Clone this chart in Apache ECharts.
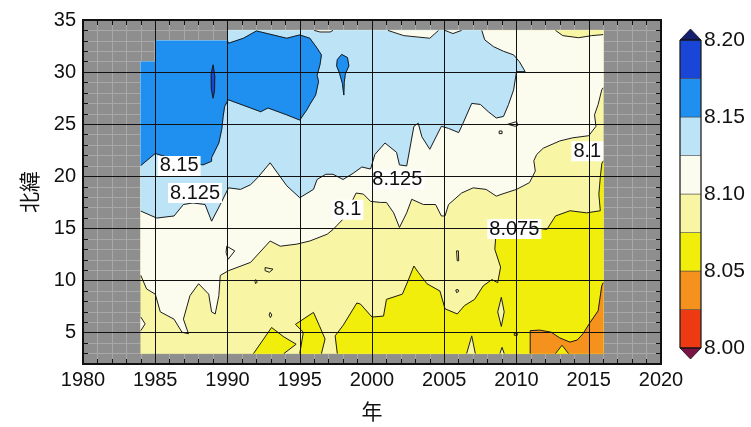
<!DOCTYPE html>
<html>
<head>
<meta charset="utf-8">
<script src="https://cdn.jsdelivr.net/npm/echarts@6/dist/echarts.min.js"></script>
<style>
  html, body { margin: 0; padding: 0; background: #ffffff; }
  #chart { width: 751px; height: 427px; }
</style>
</head>
<body>
<div id="chart"></div>
<script>
const NUM_FONT = 'Liberation Sans, Arial, Helvetica, sans-serif';
const CJK_FONT = 'Noto Sans CJK JP, Noto Sans CJK SC, sans-serif';

// pH classes in 0.025 steps and their fills, low to high
const levels = [8.000, 8.025, 8.050, 8.075, 8.100, 8.125, 8.150, 8.175, 8.200];
const classColors = ['#ee3a12', '#f5921e', '#f2ee0c', '#f8f6a4', '#fcfcee', '#bde3f6', '#1f8ff0', '#1a46d8'];
const colorbarTicks = [8.00, 8.05, 8.10, 8.15, 8.20];

// axes: year along x, latitude (deg N) along y
const yearRange = [1980, 2020];
const latRange = [2, 35];
const yearGrid = [1985, 1990, 1995, 2000, 2005, 2010, 2015];
const latGrid = [5, 10, 15, 20, 25, 30];

// observed area, [year, lat]
const coverage = [[1984, 3], [2016, 3], [2016, 34], [1990, 34], [1990, 33], [1985, 33], [1985, 31], [1984, 31]];

// 8.050-8.075 areas (contour part, then closing points along the edge of the observed area)
const yellowA = [[1991.8, 3], [1992.4, 4.2], [1993.05, 5.5], [1993.9, 4.6], [1994.75, 3.9], [1993.9, 3]];
const yellowB = [[1995.0, 3], [1995.25, 5.05], [1994.7, 5.8], [1995.95, 6.95], [1996.35, 5.7], [1996.75, 4.4], [1996.5, 3]];
const yellowC = [[1997.6, 3], [1997.45, 4.7], [1998.0, 5.7], [1998.95, 7.85], [1999.2, 7.75], [2000.0, 6.5], [2000.8, 6.6],
  [2001.0, 8.2], [2002.1, 8.7], [2002.5, 10.0], [2002.9, 11.4], [2003.2, 10.8], [2003.8, 9.7], [2004.7, 9.0],
  [2005.05, 7.3], [2005.9, 6.8], [2006.4, 7.6], [2007.1, 8.2], [2007.7, 9.5], [2008.3, 10.1], [2008.7, 9.8],
  [2008.9, 11.3], [2008.5, 13.0], [2008.6, 14.9], [2010.2, 15.3], [2012.1, 14.9], [2012.7, 16.2], [2013.7, 16.7],
  [2014.85, 16.5], [2015.8, 16.7], [2015.7, 18.3], [2015.8, 19.9], [2015.9, 21.2], [2016, 21.5]];
const yellowCClose = [[2016, 3]];
const yellowNotch = [[2012.7, 3], [2013.15, 3.8], [2013.6, 3]];

// 8.075-8.100 pockets inside the 8.050-8.075 area
const paleLens = [[2008.95, 8.4], [2009.15, 7.0], [2008.95, 5.6], [2008.7, 7.0]];
const paleSpike1 = [[2006.55, 3], [2006.9, 4.7], [2007.15, 3]];
const paleSpike2 = [[2008.85, 3], [2009.0, 3.6], [2009.15, 3]];
const paleTopRight = [[2012.7, 34], [2013.2, 33.5], [2014.3, 33.3], [2015.2, 33.5], [2016, 33.6]];
const paleTopRightClose = [[2016, 34]];

// below 8.050
const orange = [[2010.95, 3], [2010.95, 5.2], [2011.6, 5.25], [2012.4, 5.05], [2013.0, 4.5], [2013.7, 4.1],
  [2014.2, 4.3], [2014.6, 4.9], [2015.1, 6.0], [2015.65, 7.1], [2015.9, 9.5], [2016, 9.8]];
const orangeClose = [[2016, 3]];

// 8.100 contour (white above)
const white = [[1984, 10.5], [1984.4, 9.2], [1985.0, 8.7], [1985.35, 7.0], [1986.3, 6.3], [1986.85, 5.05], [1987.3, 4.9],
  [1986.95, 6.3], [1987.4, 8.55], [1988.0, 9.7], [1988.7, 8.7], [1988.9, 7.0], [1989.15, 6.8], [1989.4, 8.55],
  [1989.5, 10.5], [1990.07, 10.95], [1991.6, 11.75], [1992.95, 13.8], [1993.65, 13.3], [1994.8, 13.5], [1995.7, 13.8],
  [1996.9, 14.45], [1997.3, 14.9], [1998.0, 15.9], [1998.3, 16.7], [1998.9, 18.4], [1999.4, 18.3], [1999.9, 17.6],
  [2000.6, 17.5], [2001.0, 17.5], [2001.5, 16.5], [2001.9, 15.1], [2002.4, 16.5], [2002.75, 17.8], [2003.55, 17.3],
  [2004.4, 17.3], [2004.8, 16.2], [2005.05, 16.2], [2005.3, 17.3], [2006.2, 18.4], [2007.0, 18.9], [2007.9, 18.75],
  [2008.6, 18.1], [2009.0, 18.3], [2010.0, 18.75], [2010.9, 19.4], [2011.3, 20.5], [2011.2, 21.5], [2011.4, 22.1],
  [2011.85, 22.7], [2013.0, 23.4], [2013.9, 23.7], [2015.0, 23.9], [2015.5, 24.8], [2015.4, 25.9], [2015.65, 26.9],
  [2015.9, 28.3], [2016, 28.5]];
const whiteClose = [[2016, 34], [1990, 34], [1990, 33], [1985, 33], [1985, 31], [1984, 31]];
const whiteNotch = [[1984, 6.5], [1984.3, 5.85], [1984, 5.2]];
const whiteTop1 = [[1996.0, 34], [1996.4, 33.85], [1997.1, 33.85], [1997.3, 34]];
const whiteTop2 = [[2001.1, 34], [2002.2, 33.5], [2004.0, 33.25], [2004.6, 34]];
const whiteTop3 = [[2005.05, 34], [2005.6, 33.7], [2006.2, 34]];

// 8.125 contour (light blue above)
const lightBlue = [[1984, 16.67], [1985.1, 16.0], [1986.3, 16.2], [1986.95, 17.3], [1987.6, 17.45], [1988.45, 17.3],
  [1988.9, 15.7], [1989.5, 17.3], [1990.07, 18.9], [1990.9, 18.75], [1991.6, 19.2], [1992.1, 19.9], [1992.95, 21.3],
  [1994.1, 19.1], [1995.0, 17.95], [1995.95, 18.75], [1996.2, 19.7], [1996.8, 20.2], [1997.3, 20.2], [1998.0, 19.7],
  [1998.7, 20.3], [1999.3, 20.9], [1999.9, 20.7], [2000.2, 22.1], [2000.9, 23.2], [2001.7, 22.3], [2001.9, 21.1],
  [2002.4, 21.0], [2002.9, 24.8], [2003.2, 25.1], [2003.45, 23.8], [2004.0, 22.6], [2004.8, 24.8], [2005.3, 24.6],
  [2006.0, 24.2], [2006.3, 25.1], [2006.9, 27.0], [2007.5, 26.9], [2008.05, 26.2], [2008.6, 25.6], [2009.1, 25.75],
  [2009.45, 26.9], [2009.8, 28.3], [2010.0, 30.05], [2010.6, 30.05], [2010.2, 31.0], [2009.8, 31.65], [2009.1, 32.0],
  [2008.4, 32.45], [2007.8, 33.1], [2007.6, 34]];
const lightBlueClose = [[1990, 34], [1990, 33], [1985, 33], [1985, 31], [1984, 31]];

// 8.150 contour (blue above)
const blue = [[1984, 21.04], [1985, 22.2], [1986.4, 21.6], [1988.3, 21.1], [1988.9, 21.45], [1988.9, 21.8], [1989.4, 23.2],
  [1989.6, 24.5], [1989.7, 25.75], [1989.8, 26.7], [1990.05, 27.35], [1991.6, 26.56], [1992.3, 26.2], [1992.8, 26.56],
  [1994.1, 25.9], [1995.0, 25.4], [1995.5, 26.4], [1995.7, 26.9], [1996.1, 27.8], [1996.3, 29.1], [1996.2, 29.7],
  [1996.4, 30.7], [1996.5, 31.65], [1996.2, 32.3], [1995.7, 33.25], [1995.0, 33.57], [1994.1, 33.25], [1992.0, 33.95],
  [1991.1, 33.25], [1990.07, 32.77], [1990, 33]];
const blueClose = [[1985, 33], [1985, 31], [1984, 31]];
const blueIsland = [[1997.6, 31.2], [1997.9, 31.7], [1998.3, 31.4], [1998.4, 30.6], [1998.15, 29.8], [1998.08, 29.0],
  [1998.05, 27.8], [1997.95, 28.9], [1997.75, 29.9], [1997.55, 30.6]];
const darkBlueIsland = [[1989.0, 30.7], [1989.12, 29.6], [1989.1, 28.2], [1989.0, 27.5], [1988.88, 28.4], [1988.87, 29.8]];

// small closed contours
const loops = [
  [[1989.95, 13.3], [1990.5, 12.85], [1990.05, 12.05], [1989.9, 12.7]],
  [[1992.6, 11.25], [1993.15, 11.1], [1992.9, 10.8], [1992.6, 10.95]],
  [[1991.95, 10.1], [1992.05, 9.85], [1991.95, 9.7], [1991.9, 9.9]],
  [[1992.95, 6.95], [1993.07, 6.7], [1992.97, 6.45], [1992.88, 6.7]],
  [[2005.85, 12.85], [2005.98, 12.85], [2006.0, 11.9], [2005.9, 11.9]],
  [[2005.8, 9.1], [2005.95, 9.15], [2006.0, 8.95], [2005.85, 8.85]],
  [[2008.8, 24.35], [2009.0, 24.35], [2009.0, 24.1], [2008.8, 24.1]],
  [[2009.4, 25.0], [2010.0, 25.25], [2010.1, 24.9], [2009.9, 24.8]],
  [[2009.85, 4.95], [2010.05, 4.95], [2010.05, 4.75], [2009.85, 4.75]]
];

// contour labels: [year, lat, text]
const contourLabels = [
  [1986.65, 21.0, '8.15'],
  [1987.75, 18.4, '8.125'],
  [1998.3, 16.8, '8.1'],
  [2001.75, 19.7, '8.125'],
  [2009.85, 14.95, '8.075'],
  [2014.9, 22.4, '8.1']
];

// draw order: lower classes first, higher classes painted over them
const regions = [
  { cls: 3, line: coverage, close: [], contour: false },
  { cls: 2, line: yellowA, close: [], contour: true },
  { cls: 2, line: yellowB, close: [], contour: true },
  { cls: 2, line: yellowC, close: yellowCClose, contour: true },
  { cls: 3, line: paleLens, close: [], contour: true, closed: true },
  { cls: 3, line: paleSpike1, close: [], contour: true },
  { cls: 3, line: paleSpike2, close: [], contour: true },
  { cls: 1, line: orange, close: orangeClose, contour: true },
  { cls: 2, line: yellowNotch, close: [], contour: true },
  { cls: 4, line: white, close: whiteClose, contour: true },
  { cls: 4, line: whiteNotch, close: [], contour: true },
  { cls: 3, line: paleTopRight, close: paleTopRightClose, contour: true },
  { cls: 5, line: lightBlue, close: lightBlueClose, contour: true },
  { cls: 4, line: whiteTop1, close: [], contour: true },
  { cls: 4, line: whiteTop2, close: [], contour: true },
  { cls: 4, line: whiteTop3, close: [], contour: true },
  { cls: 6, line: blue, close: blueClose, contour: true },
  { cls: 6, line: blueIsland, close: [], contour: true, closed: true },
  { cls: 7, line: darkBlueIsland, close: [], contour: true, closed: true }
].concat(loops.map(l => ({ cls: null, line: l, close: [], contour: true, closed: true })));

function renderRegion(params, api) {
  const r = regions[params.dataIndex];
  const edge = r.line.map(p => api.coord(p));
  const ring = edge.concat(r.close.map(p => api.coord(p)));
  const children = [];
  if (r.cls != null) {
    const c = classColors[r.cls];
    children.push({ type: 'polygon', shape: { points: ring }, style: { fill: c, stroke: c, lineWidth: 0.6 } });
  }
  if (r.contour) {
    const pts = r.closed ? edge.concat([edge[0]]) : edge;
    children.push({ type: 'polyline', shape: { points: pts }, style: { fill: null, stroke: '#1c1c1c', lineWidth: 1 } });
  }
  return { type: 'group', children: children };
}

// contour labels as text boxes on a white ground
function renderLabel(params, api) {
  const d = contourLabels[params.dataIndex];
  const p = api.coord([d[0], d[1]]);
  return {
    type: 'text', x: p[0], y: p[1],
    style: {
      text: d[2], fontFamily: NUM_FONT, fontSize: 20, fill: '#111111',
      align: 'center', verticalAlign: 'middle', backgroundColor: '#ffffff', padding: [0, 2]
    }
  };
}

// colour bar: one box per class plus the two end arrows
const barItems = classColors.map((c, i) => [i]).concat([['top'], ['bottom'], ['frame']]);
function renderBar(params, api) {
  const key = barItems[params.dataIndex][0];
  const lo = api.coord([0, levels[0]]);
  const hi = api.coord([1, levels[levels.length - 1]]);
  const tip = 11;
  if (key === 'top') {
    return { type: 'polygon', shape: { points: [[lo[0], hi[1]], [hi[0], hi[1]], [(lo[0] + hi[0]) / 2, hi[1] - tip]] },
      style: { fill: '#14206e', stroke: '#111', lineWidth: 0.8 } };
  }
  if (key === 'bottom') {
    return { type: 'polygon', shape: { points: [[lo[0], lo[1]], [hi[0], lo[1]], [(lo[0] + hi[0]) / 2, lo[1] + tip]] },
      style: { fill: '#7a1445', stroke: '#111', lineWidth: 0.8 } };
  }
  if (key === 'frame') {
    return { type: 'rect', shape: { x: lo[0], y: hi[1], width: hi[0] - lo[0], height: lo[1] - hi[1] },
      style: { fill: null, stroke: '#111', lineWidth: 1 } };
  }
  const a = api.coord([0, levels[key]]);
  const b = api.coord([1, levels[key + 1]]);
  return { type: 'rect', shape: { x: a[0], y: b[1], width: b[0] - a[0], height: a[1] - b[1] },
    style: { fill: classColors[key], stroke: '#444', lineWidth: 0.5 } };
}

const tickText = { fontFamily: NUM_FONT, fontSize: 20, color: '#111111' };

const chart = echarts.init(document.getElementById('chart'), null, { renderer: 'canvas' });
chart.setOption({
  animation: false,
  backgroundColor: '#ffffff',
  grid: [
    { left: 83, top: 20, width: 578, height: 345, show: true, backgroundColor: '#8e8e8e', borderWidth: 0 },
    { left: 680, top: 40, width: 21, height: 308, show: false }
  ],
  xAxis: [
    {
      gridIndex: 0, type: 'value', position: 'bottom', min: yearRange[0], max: yearRange[1], interval: 1,
      axisLine: { show: true, lineStyle: { color: '#111', width: 2 } },
      axisTick: { show: true, inside: true, length: 5, lineStyle: { color: '#111', width: 1 } },
      axisLabel: Object.assign({ margin: 6, formatter: v => (v % 5 === 0 ? String(v) : '') }, tickText),
      splitLine: { show: true, lineStyle: { color: '#a8a8a8', width: 1 } },
      name: '年', nameLocation: 'middle', nameGap: 37,
      nameTextStyle: { fontFamily: CJK_FONT, fontSize: 21, color: '#111111' }
    },
    {
      gridIndex: 0, type: 'value', position: 'top', min: yearRange[0], max: yearRange[1], interval: 1,
      axisLine: { show: true, onZero: false, lineStyle: { color: '#111', width: 2 } },
      axisTick: { show: true, inside: true, length: 5, lineStyle: { color: '#111', width: 1 } },
      axisLabel: { show: false }, splitLine: { show: false }
    },
    { gridIndex: 1, type: 'value', min: 0, max: 1, show: false }
  ],
  yAxis: [
    {
      gridIndex: 0, type: 'value', position: 'left', min: latRange[0], max: latRange[1], interval: 1,
      axisLine: { show: true, onZero: false, lineStyle: { color: '#111', width: 2 } },
      axisTick: { show: true, inside: true, length: 5, lineStyle: { color: '#111', width: 1 } },
      axisLabel: Object.assign({ margin: 7, formatter: v => (v % 5 === 0 ? String(v) : '') }, tickText),
      splitLine: { show: true, lineStyle: { color: '#a8a8a8', width: 1 } },
      name: '北緯', nameLocation: 'middle', nameRotate: 90, nameGap: 43,
      nameTextStyle: { fontFamily: CJK_FONT, fontSize: 21, color: '#111111' }
    },
    {
      gridIndex: 0, type: 'value', position: 'right', min: latRange[0], max: latRange[1], interval: 1,
      axisLine: { show: true, onZero: false, lineStyle: { color: '#111', width: 2 } },
      axisTick: { show: true, inside: true, length: 5, lineStyle: { color: '#111', width: 1 } },
      axisLabel: { show: false }, splitLine: { show: false }
    },
    {
      gridIndex: 1, type: 'value', position: 'right', min: levels[0], max: levels[levels.length - 1], interval: 0.05,
      axisLine: { show: false }, axisTick: { show: false }, splitLine: { show: false },
      axisLabel: Object.assign({ margin: 3, formatter: v => v.toFixed(2) }, tickText, { fontSize: 21 })
    }
  ],
  series: [
    {
      type: 'custom', name: 'pH', xAxisIndex: 0, yAxisIndex: 0, z: 2, clip: true, silent: true,
      renderItem: renderRegion,
      data: regions.map((r, i) => [r.line[0][0], r.line[0][1], i])
    },
    {
      type: 'custom', name: 'contour labels', xAxisIndex: 0, yAxisIndex: 0, z: 3, silent: true,
      renderItem: renderLabel,
      data: contourLabels.map(d => [d[0], d[1]])
    },
    {
      type: 'line', name: 'grid', xAxisIndex: 0, yAxisIndex: 0, z: 4, silent: true, data: [],
      markLine: {
        silent: true, symbol: ['none', 'none'], label: { show: false },
        lineStyle: { color: '#111', width: 1, type: 'solid' },
        data: yearGrid.map(v => ({ xAxis: v })).concat(latGrid.map(v => ({ yAxis: v })))
      }
    },
    {
      type: 'custom', name: 'colour bar', xAxisIndex: 2, yAxisIndex: 2, z: 2, clip: false, silent: true,
      renderItem: renderBar,
      data: barItems.map((d, i) => [0, levels[0], i])
    }
  ]
});
</script>
</body>
</html>
